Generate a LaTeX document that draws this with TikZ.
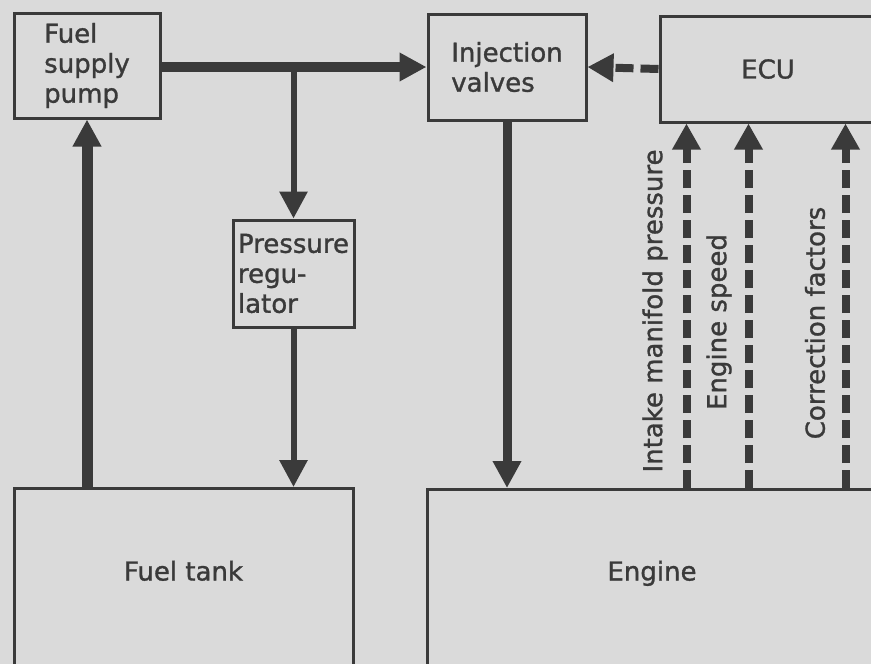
\documentclass[tikz,border=0pt]{standalone}
\usepackage{fontspec}
\setmainfont{DejaVu Sans}[FakeBold=1.2]
\usetikzlibrary{arrows.meta}
\definecolor{paper}{HTML}{DADADA}
\definecolor{ink}{HTML}{3A3A3A}

\begin{document}
\begin{tikzpicture}[x=1pt, y=-1pt, every node/.style={font=\fontsize{26}{30}\selectfont, text=ink},
        block/.style={draw=ink, line width=3pt, inner sep=0pt},
        flow/.style={draw=ink, line width=#1, -{Triangle[length=27pt, width=27pt]}},
        signal/.style={draw=ink, line width=8pt, dash pattern=on 18pt off 7pt, -{Triangle[length=26pt, width=27pt]}}]
        \useasboundingbox (0,0) rectangle (871,664);
        \fill[paper] (0,0) rectangle (871,664);
        \clip (0,0) rectangle (871,664);
        \node[block, align=left, minimum width=146pt, minimum height=105pt] (pump) at (87,65.5) {Fuel\\supply\\pump};
        \node[block, align=left, minimum width=158pt, minimum height=106pt] (valves) at (507,67) {Injection\\valves};
        \node[block, minimum width=216pt, minimum height=106pt] (ecu) at (768,69) {ECU};
        \node[block, align=left, minimum width=121pt, minimum height=107pt] (regulator) at (293.5,273.5) {Pressure\\regu-\\lator};
        \node[block, minimum width=339pt, text height=92pt, text depth=111pt, anchor=north] (tank) at (183.5,487) {Fuel tank};
        \node[block, minimum width=450pt, text height=91pt, text depth=111pt, anchor=north] (engine) at (652,488) {Engine};
        % signal labels
        \node[rotate=90] (intake) at (655,311) {Intake manifold pressure};
        \node[rotate=90] (speed) at (719,322) {Engine speed};
        \node[rotate=90] (correction) at (815,323) {Correction factors};
        % fuel flow
        \draw[flow=10pt] (pump.east |- valves.west) -- (valves.west);
        \draw[flow=6pt] (regulator.north |- valves.west) -- (regulator.north);
        \draw[flow=11pt] (pump.south |- tank.north) -- (pump.south);
        \draw[flow=6pt] (regulator.south) -- (regulator.south |- tank.north);
        \draw[flow=9pt] (valves.south) -- (valves.south |- engine.north);
        % signals
        \draw[signal] (ecu.west) -- (valves.east);
        \foreach \dx in {28,90,187}
            \draw[signal] ([xshift=\dx pt]ecu.south west |- engine.north) -- ([xshift=\dx pt]ecu.south west);
    \end{tikzpicture}
\end{document}
